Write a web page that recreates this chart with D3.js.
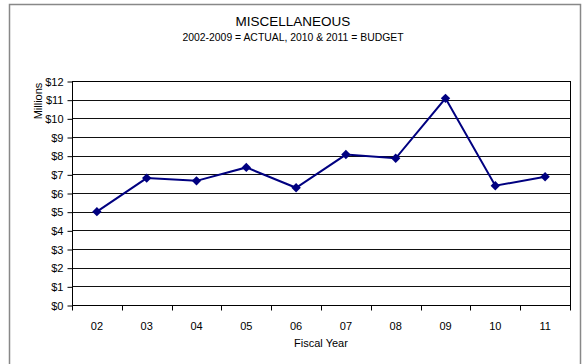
<!DOCTYPE html>
<html><head><meta charset="utf-8">
<script src="https://cdn.jsdelivr.net/npm/d3@7"></script>
<style>body{margin:0;background:#fff;font-family:"Liberation Sans",Arial,sans-serif;}</style>
</head><body><svg id="c" width="585" height="364"></svg>
<script>
const years = ["02","03","04","05","06","07","08","09","10","11"];
const values = [5.0, 6.8, 6.65, 7.37, 6.28, 8.06, 7.86, 11.07, 6.39, 6.87];
const yTicks = [0,1,2,3,4,5,6,7,8,9,10,11,12];
const title = "MISCELLANEOUS";
const subtitle = "2002-2009 = ACTUAL, 2010 & 2011 = BUDGET";

const svg = d3.select("#c");
svg.append("rect").attr("x",9.5).attr("y",4.5).attr("width",571).attr("height",370)
  .attr("fill","#fff").attr("stroke","#888").attr("stroke-width",1.5);

const L=72, R=570, T=81, B=305;
const x = d3.scaleBand().domain(years).range([L,R]);
const y = d3.scaleLinear().domain([0,12]).range([B,T]);

svg.append("text").attr("x",293).attr("y",26).attr("text-anchor","middle")
  .attr("font-size",13.5).text(title);
svg.append("text").attr("x",293).attr("y",41).attr("text-anchor","middle")
  .attr("font-size",10.4).text(subtitle);

// gridlines
svg.append("g").selectAll("line").data(yTicks).join("line")
  .attr("x1",L).attr("x2",R).attr("y1",d=>Math.round(y(d))+0.5).attr("y2",d=>Math.round(y(d))+0.5)
  .attr("stroke","#111").attr("stroke-width",1);
svg.append("rect").attr("x",L+0.5).attr("y",Math.round(T)+0.5).attr("width",R-L).attr("height",Math.round(B)-Math.round(T))
  .attr("fill","none").attr("stroke","#000");

const ya = svg.append("g").attr("transform",`translate(${L+0.5},0.5)`)
  .call(d3.axisLeft(y).tickValues(yTicks).tickSize(5).tickPadding(4).tickFormat(d=>"$"+d));
ya.select(".domain").remove();
ya.selectAll("text").attr("font-size",11).attr("font-family","Liberation Sans, Arial, sans-serif").attr("fill","#000");

const xa = svg.append("g").attr("transform",`translate(0,${Math.round(B)+0.5})`);
xa.selectAll("line").data(d3.range(years.length+1)).join("line")
  .attr("x1",i=>Math.round(L+i*x.bandwidth())+0.5).attr("x2",i=>Math.round(L+i*x.bandwidth())+0.5)
  .attr("y1",0).attr("y2",5).attr("stroke","#000");
xa.selectAll("text").data(years).join("text")
  .attr("x",d=>x(d)+x.bandwidth()/2).attr("y",24).attr("text-anchor","middle")
  .attr("font-size",11).text(d=>d);

svg.append("text").attr("x",321).attr("y",347).attr("text-anchor","middle").attr("font-size",11).text("Fiscal Year");
svg.append("text").attr("transform","translate(42,101) rotate(-90)").attr("text-anchor","middle")
  .attr("font-size",11).text("Millions");

const line = d3.line().x((d,i)=>x(years[i])+x.bandwidth()/2).y(d=>y(d));
svg.append("path").datum(values).attr("d",line).attr("fill","none").attr("stroke","#000080").attr("stroke-width",2);
svg.append("g").selectAll("path").data(values).join("path")
  .attr("d",d3.symbol(d3.symbolSquare, 44))
  .attr("transform",(d,i)=>`translate(${x(years[i])+x.bandwidth()/2},${y(d)}) rotate(45)`)
  .attr("fill","#000080");
</script></body></html>
